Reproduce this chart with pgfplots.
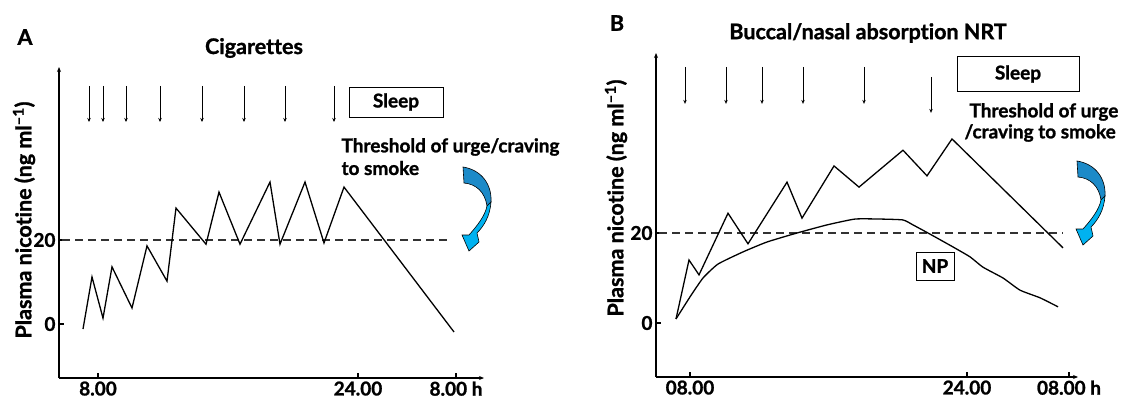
\documentclass[border=0pt]{standalone}
\usepackage{pgfplots}
\pgfplotsset{compat=1.18}
\usetikzlibrary{arrows.meta}
\usepackage{fontspec}
\setmainfont{Lato}[Ligatures=NoCommon, BoldFeatures={FakeBold=1.2}]
\setsansfont{Lato}
\definecolor{arrowdark}{RGB}{28,138,200}
\definecolor{arrowlight}{RGB}{0,178,240}
\definecolor{dashgrey}{RGB}{50,50,50}
\newcommand{\lbl}{\fontsize{19}{21}\selectfont\bfseries}
\newcommand{\ttl}{\fontsize{21.5}{24}\selectfont\bfseries}
\newcommand{\bluearrow}[2]{%
\begin{scope}[x=1pt,y=-1pt,shift={(#1,#2)}]
\filldraw[fill=arrowdark, draw=black, line width=0.6pt] (463,167) .. controls (482,170) and (492,185) .. (491,202) -- (487,206) .. controls (485,192) and (476,184) .. (464,183) -- cycle;
\filldraw[fill=arrowlight, draw=black, line width=0.6pt] (491,202) .. controls (490,216) and (484,226) .. (477,233) -- (479,242) -- (469,251) -- (462,235) -- (469,235) .. controls (477,226) and (485,216) .. (487,206) -- cycle;
\end{scope}}
\pgfplotsset{myax/.style={scale only axis, axis lines=left,
  axis line style={line width=1.6pt, -{Stealth[length=5pt,width=4pt]}},
  tick align=inside, major tick length=5pt,
  tick style={line width=1.2pt, black},
  ticklabel style={font=\lbl},
  ytick={0,20}, yticklabels={0,20},
  clip=false}}
\begin{document}
\begin{tikzpicture}
\useasboundingbox (0pt,0pt) rectangle (1121pt,-412pt);
% Panel A
\begin{axis}[myax, at={(59pt,-378pt)}, anchor=south west,
  width=425pt, height=311pt,
  xmin=59, xmax=484, ymin=-12.86, ymax=61.19,
  xtick={98,358,456}, xticklabels={8.00,24.00,8.00 h}]
\addplot[dashgrey, line width=1.3pt, dash pattern=on 8pt off 5pt] coordinates {(62,20) (448,20)};
\addplot[black, line width=1.3pt] coordinates {
(83,-1.2)(92,11.2)(103,1.4)(112,13.6)(132,3.8)(147,18.6)(167,10.2)(176,27.6)(206,19.0)(219,31.4)(240,19.0)(270,33.8)(280,19.0)(305,33.8)(324,19.3)(344,32.6)(454,-1.9)};
\addplot[black, line width=1pt, -{Stealth[length=4pt,width=3.5pt]}, quiver={u=0, v=\thisrow{v}}] table {
x y v
89 56.7 -8.6
103 56.7 -8.6
126 56.7 -8.6
160 56.7 -8.6
202 56.7 -8.6
244 56.7 -8.6
285 56.7 -8.6
334 56.7 -8.6
};
\end{axis}
% Panel B
\begin{axis}[myax, at={(656pt,-377pt)}, anchor=south west,
  width=422pt, height=324pt,
  xmin=656, xmax=1078, ymin=-12, ymax=60,
  xtick={690,967,1069}, xticklabels={08.00,24.00,08.00 h}]
\addplot[dashgrey, line width=1.3pt, dash pattern=on 8pt off 5pt] coordinates {(659,20) (1063,20)};
\addplot[black, line width=1.3pt] coordinates {
(676,0.9)(689,14.0)(699,10.7)(728,24.4)(748,17.6)(787,31.3)(802,23.3)(834,34.9)(859,30.2)(903,38.4)(927,32.7)(952,40.9)(1063,16.7)};
\addplot[black, line width=1.3pt, smooth, tension=0.3] coordinates {
(676,0.9)(690,5.8)(703,10.0)(718,13.1)(743,15.8)(767,18.0)(797,20.0)(827,21.8)(855,23.1)(880,23.1)(903,22.9)(913,21.8)(928,20.0)(953,16.9)(970,14.7)(983,12.4)(1003,10.0)(1020,7.3)(1040,5.6)(1058,3.6)};
\addplot[black, line width=1pt, -{Stealth[length=4pt,width=3.5pt]}, quiver={u=0, v=\thisrow{v}}] table {
x y v
685 56.9 -8.2
726 56.9 -8.2
762 56.9 -8.2
803 56.9 -8.2
864 56.9 -8.2
931 54.7 -8.0
};
\end{axis}
% annotations
\begin{scope}[x=1pt,y=-1pt]
\node[font=\ttl] at (25,37) {A};
\node[font=\ttl] at (617,23) {B};
\node[font=\ttl] at (254,48) {Cigarettes};
\node[font=\ttl] at (868,33) {Buccal/nasal absorption NRT};
\node[font=\ttl, rotate=90] at (24,220) {Plasma nicotine (ng ml\textsuperscript{–1})};
\node[font=\ttl, rotate=90] at (616,198) {Plasma nicotine (ng ml\textsuperscript{–1})};
\node[draw, line width=1pt, minimum width=94pt, minimum height=30pt, font=\lbl] at (396,102) {Sleep};
\node[draw, line width=1pt, minimum width=122pt, minimum height=35pt, font=\lbl] at (1018,74) {Sleep};
\node[draw, line width=1pt, minimum width=38pt, minimum height=28pt, inner sep=1pt, font=\lbl] at (935,266) {NP};
\node[anchor=west, font=\lbl] at (338,147) {Threshold of urge/craving};
\node[anchor=west, font=\lbl] at (338,168) {to smoke};
\node[anchor=west, font=\lbl] at (966,112) {Threshold of urge};
\node[anchor=west, font=\lbl] at (961,133) {/craving to smoke};
\end{scope}
\bluearrow{0}{0}
\bluearrow{614}{-6}
\end{tikzpicture}
\end{document}
